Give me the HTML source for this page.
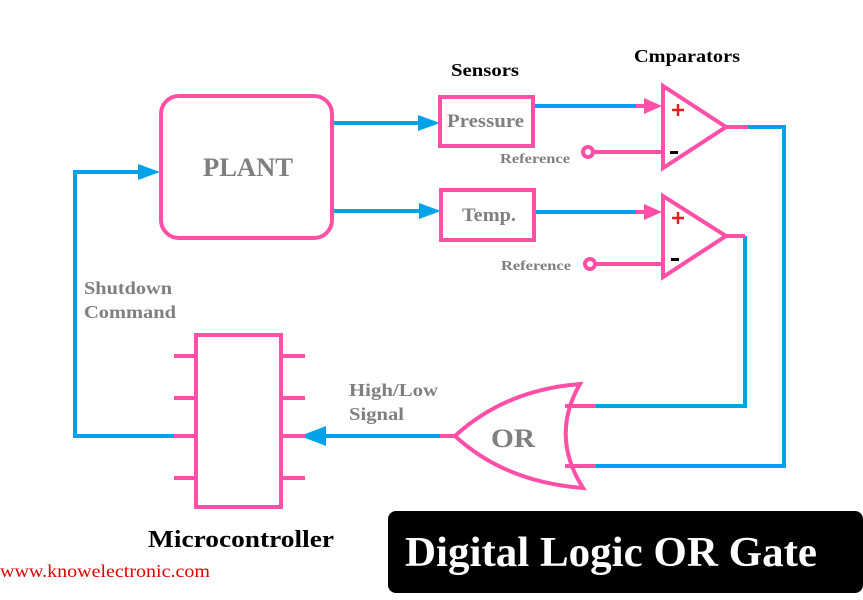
<!DOCTYPE html>
<html><head><meta charset="utf-8"><style>
html,body{margin:0;padding:0;background:#fff;}
svg{display:block;}
text{font-family:"Liberation Serif",serif;font-weight:bold;}
</style></head><body>
<svg width="863" height="600" viewBox="0 0 863 600">
<g fill="none" stroke-width="4">
<g stroke="#00a2e8">
<line x1="332" y1="123" x2="420" y2="123"/>
<line x1="332" y1="211" x2="420" y2="211"/>
<line x1="533" y1="106" x2="636" y2="106"/>
<line x1="534" y1="212" x2="636" y2="212"/>
<polyline points="748,127 784,127 784,466 596,466"/>
<polyline points="745,236 745,406 596,406"/>
<line x1="440" y1="436" x2="318" y2="436"/>
<polyline points="174,436 75,436 75,172 140,172"/>
</g>
<g fill="#00a2e8" stroke="none">
<path d="M440,123 L418,115 L418,131z"/>
<path d="M441,211 L419,203 L419,219z"/>
<path d="M160,172 L138,164 L138,180z"/>
<path d="M300,436 L326,426 L326,446z"/>
</g>
<g stroke="#ff4fa7">
<rect x="161" y="96" width="171" height="142" rx="18"/>
<rect x="440" y="97" width="93" height="49"/>
<rect x="441" y="190" width="93" height="50"/>
<line x1="636" y1="106" x2="650" y2="106"/>
<line x1="636" y1="212" x2="650" y2="212"/>
<polygon points="663,86 663,168 726,127"/>
<polygon points="663,196 663,277 726,236"/>
<line x1="726" y1="127" x2="748" y2="127"/>
<line x1="726" y1="236" x2="745" y2="236"/>
<line x1="593" y1="152" x2="663" y2="152"/>
<line x1="595" y1="264" x2="663" y2="264"/>
<circle cx="588" cy="152" r="5"/>
<circle cx="590" cy="264" r="5"/>
<path d="M580,384 Q505,390 455,436 Q505,482 583,488 Q550,436 580,384z"/>
<line x1="565" y1="406" x2="596" y2="406"/>
<line x1="565" y1="466" x2="596" y2="466"/>
<line x1="440" y1="436" x2="455" y2="436"/>
<rect x="196" y="335" width="85" height="172"/>
<line x1="174" y1="356" x2="196" y2="356"/><line x1="281" y1="356" x2="305" y2="356"/>
<line x1="174" y1="398" x2="196" y2="398"/><line x1="281" y1="398" x2="305" y2="398"/>
<line x1="174" y1="436" x2="196" y2="436"/><line x1="281" y1="436" x2="305" y2="436"/>
<line x1="174" y1="478" x2="196" y2="478"/><line x1="281" y1="478" x2="305" y2="478"/>
</g>
<g fill="#ff4fa7" stroke="none">
<path d="M662,106 L644,98 L644,114z"/>
<path d="M662,212 L644,204 L644,220z"/>
</g>
</g>
<g fill="#7f7f7f">
<text x="203" y="176" font-size="26" textLength="90" lengthAdjust="spacingAndGlyphs">PLANT</text>
<text x="447" y="127" font-size="19" textLength="77" lengthAdjust="spacingAndGlyphs">Pressure</text>
<text x="462" y="221" font-size="19" textLength="54" lengthAdjust="spacingAndGlyphs">Temp.</text>
<text x="500" y="163" font-size="14" textLength="70" lengthAdjust="spacingAndGlyphs">Reference</text>
<text x="501" y="270" font-size="14" textLength="70" lengthAdjust="spacingAndGlyphs">Reference</text>
<text x="84" y="294" font-size="18" textLength="88" lengthAdjust="spacingAndGlyphs">Shutdown</text>
<text x="84" y="318" font-size="18" textLength="92" lengthAdjust="spacingAndGlyphs">Command</text>
<text x="349" y="396" font-size="18" textLength="89" lengthAdjust="spacingAndGlyphs">High/Low</text>
<text x="349" y="420" font-size="18" textLength="55" lengthAdjust="spacingAndGlyphs">Signal</text>
<text x="491" y="447" font-size="26" textLength="44" lengthAdjust="spacingAndGlyphs">OR</text>
</g>
<g stroke="#e02020" stroke-width="2.5">
<line x1="672" y1="110" x2="684" y2="110"/><line x1="678" y1="104" x2="678" y2="116"/>
<line x1="672" y1="218" x2="684" y2="218"/><line x1="678" y1="212" x2="678" y2="224"/>
</g>
<rect x="670" y="151" width="8" height="3" fill="#000"/>
<rect x="671" y="258" width="8" height="3" fill="#000"/>
<text x="451" y="76" font-size="18" fill="#000" textLength="68" lengthAdjust="spacingAndGlyphs">Sensors</text>
<text x="634" y="62" font-size="18" fill="#000" textLength="106" lengthAdjust="spacingAndGlyphs">Cmparators</text>
<text x="148" y="547" font-size="24" fill="#000" textLength="186" lengthAdjust="spacingAndGlyphs">Microcontroller</text>
<text x="0" y="577" font-size="18" fill="#e00000" style="font-weight:normal" textLength="210" lengthAdjust="spacingAndGlyphs">www.knowelectronic.com</text>
<rect x="388" y="511" width="475" height="82" rx="8" fill="#000"/>
<text x="405" y="566" font-size="42" fill="#fff" textLength="412" lengthAdjust="spacingAndGlyphs">Digital Logic OR Gate</text>
</svg>
</body></html>
